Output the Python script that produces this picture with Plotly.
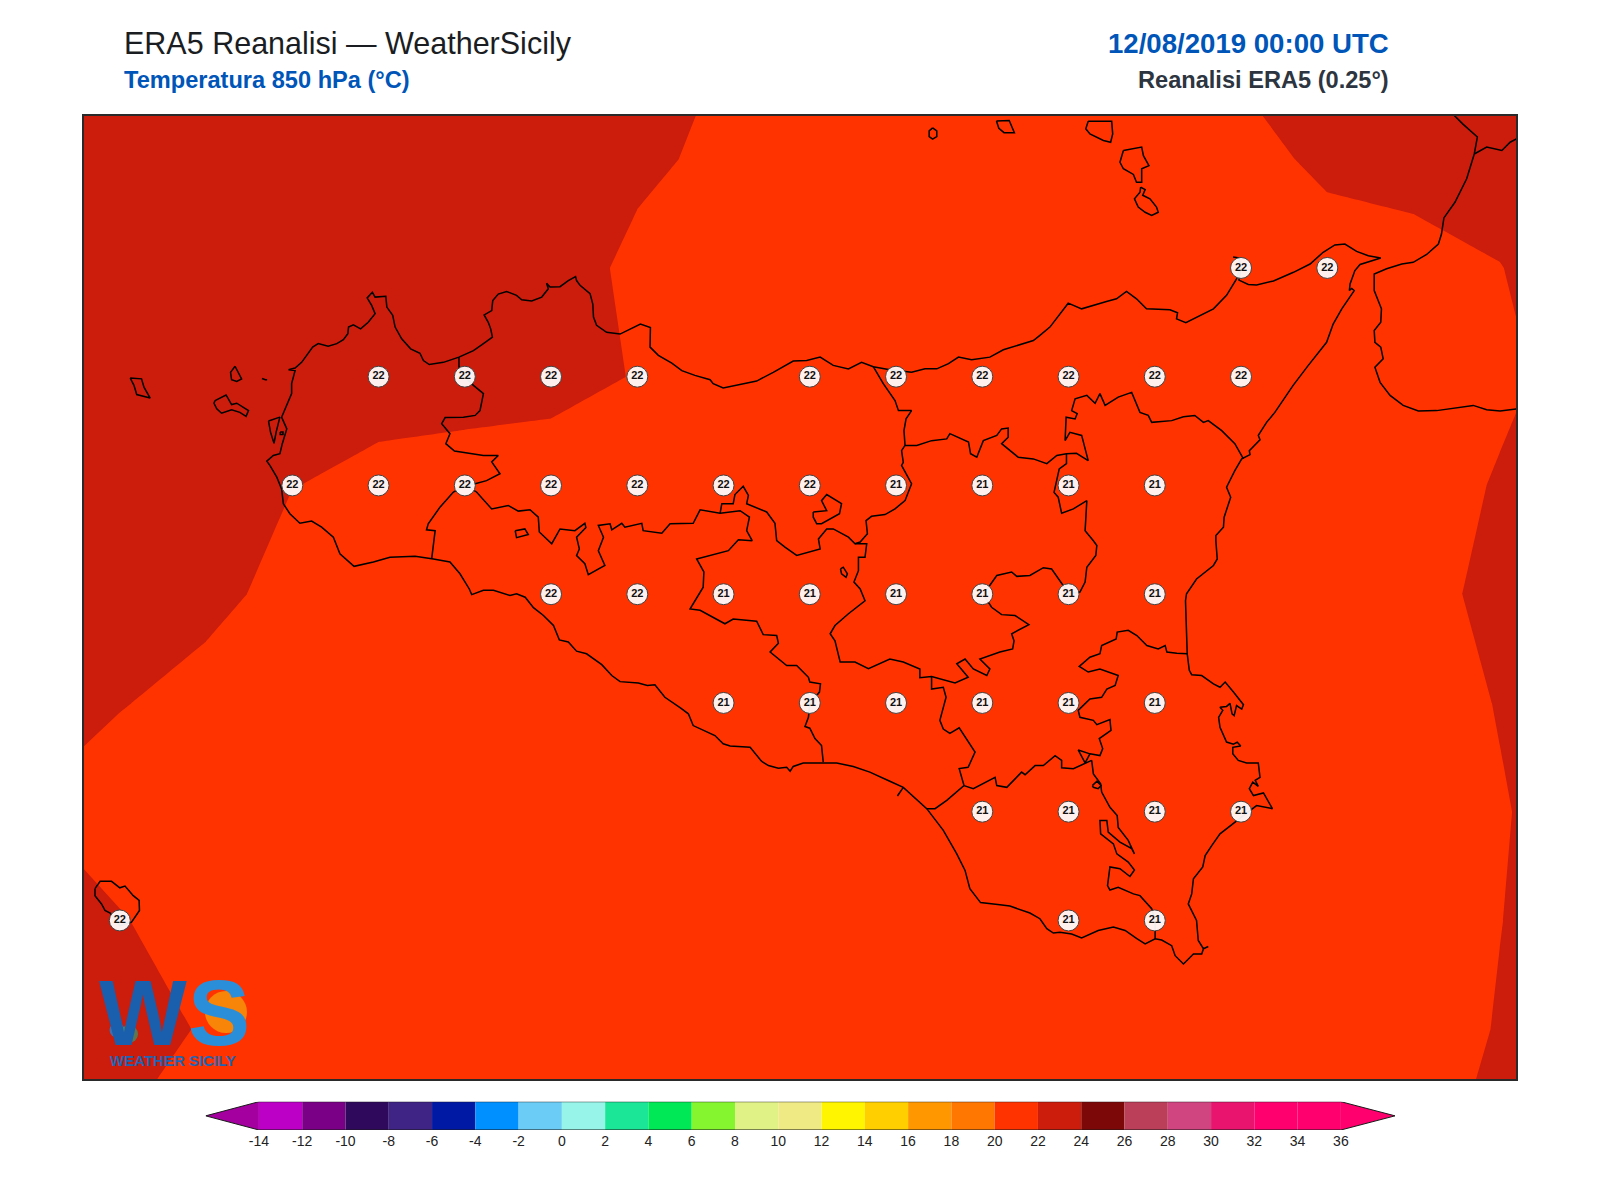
""" ERA5 850 hPa temperature map over Sicily, written to out.html """

import plotly.graph_objects as go

# ERA5 0.25 deg grid, temperature in deg C
GRID_LON = [11.75, 12.0, 12.25, 12.5, 12.75, 13.0, 13.25, 13.5, 13.75, 14.0, 14.25, 14.5, 14.75, 15.0, 15.25, 15.5, 15.75, 16.0, 16.25]
GRID_LAT = [38.75, 38.5, 38.25, 38.0, 37.75, 37.5, 37.25, 37.0, 36.75, 36.5, 36.25]
TEMP = [
    [22.5, 22.5, 22.5, 22.5, 22.5, 22.5, 22.5, 22.4, 21.99, 21.8, 21.7, 21.7, 21.7, 21.8, 22.15, 22.5, 22.6, 22.6, 22.6],
    [22.6, 22.6, 22.6, 22.6, 22.6, 22.5, 22.5, 22.12, 21.87, 21.7, 21.6, 21.6, 21.6, 21.6, 21.7, 22.18, 22.5, 22.5, 22.6],
    [22.6, 22.6, 22.6, 22.6, 22.5, 22.4, 22.3, 21.86, 21.7, 21.6, 21.55, 21.55, 21.55, 21.55, 21.55, 21.59, 21.51, 21.97, 22.6],
    [22.6, 22.6, 22.6, 22.5, 22.3, 22.2, 22.2, 21.97, 21.8, 21.8, 21.75, 21.7, 21.65, 21.6, 21.55, 21.4, 21.5, 21.7, 22.53],
    [22.6, 22.6, 22.5, 22.02, 21.8, 21.79, 21.68, 21.65, 21.6, 21.55, 21.45, 21.4, 21.35, 21.3, 21.3, 21.3, 21.28, 22.13, 22.6],
    [22.6, 22.55, 22.53, 21.41, 21.55, 21.55, 21.6, 21.55, 21.45, 21.4, 21.35, 21.3, 21.25, 21.2, 21.2, 21.3, 21.7, 22.23, 22.6],
    [22.1, 22.11, 21.31, 21.2, 21.3, 21.35, 21.4, 21.4, 21.35, 21.3, 21.3, 21.25, 21.2, 21.2, 21.2, 21.3, 21.5, 22.05, 22.5],
    [21.98, 20.86, 20.9, 21.0, 21.1, 21.2, 21.3, 21.3, 21.3, 21.25, 21.2, 21.2, 21.15, 21.15, 21.2, 21.3, 21.6, 21.92, 22.48],
    [23.0, 22.14, 20.97, 21.0, 21.1, 21.2, 21.25, 21.25, 21.2, 21.2, 21.15, 21.15, 21.1, 21.15, 21.2, 21.3, 21.6, 21.98, 22.5],
    [23.0, 22.49, 21.9, 21.5, 21.4, 21.4, 21.3, 21.3, 21.3, 21.3, 21.3, 21.3, 21.3, 21.3, 21.3, 21.4, 21.5, 22.06, 22.5],
    [22.5, 21.98, 21.5, 21.5, 21.4, 21.4, 21.4, 21.4, 21.4, 21.4, 21.4, 21.4, 21.4, 21.4, 21.4, 21.5, 21.7, 22.27, 22.5],
]

# labelled points on the map
STATION_LON = [15.25, 15.5,
               12.75, 13.0, 13.25, 13.5, 14.0, 14.25, 14.5, 14.75, 15.0, 15.25,
               12.5, 12.75, 13.0, 13.25, 13.5, 13.75, 14.0, 14.25, 14.5, 14.75, 15.0,
               13.25, 13.5, 13.75, 14.0, 14.25, 14.5, 14.75, 15.0,
               13.75, 14.0, 14.25, 14.5, 14.75, 15.0,
               14.5, 14.75, 15.0, 15.25,
               12.0, 14.75, 15.0]
STATION_LAT = [38.25, 38.25,
               38.0, 38.0, 38.0, 38.0, 38.0, 38.0, 38.0, 38.0, 38.0, 38.0,
               37.75, 37.75, 37.75, 37.75, 37.75, 37.75, 37.75, 37.75, 37.75, 37.75, 37.75,
               37.5, 37.5, 37.5, 37.5, 37.5, 37.5, 37.5, 37.5,
               37.25, 37.25, 37.25, 37.25, 37.25, 37.25,
               37.0, 37.0, 37.0, 37.0,
               36.75, 36.75, 36.75]
STATION_VAL = [22, 22,
               22, 22, 22, 22, 22, 22, 22, 22, 22, 22,
               22, 22, 22, 22, 22, 22, 22, 21, 21, 21, 21,
               22, 22, 21, 21, 21, 21, 21, 21,
               21, 21, 21, 21, 21, 21,
               21, 21, 21, 21,
               22, 21, 21]

# colour scale
LEVELS = [-14, -12, -10, -8, -6, -4, -2, 0, 2, 4, 6, 8, 10, 12, 14, 16, 18, 20, 22, 24, 26, 28, 30, 32, 34, 36]
BAND_COLORS = ["#bd00c5", "#7a0085", "#2f0a5c", "#3f2385", "#0019a5", "#0090ff", "#6bcdf5", "#96f5e8",
               "#1be597", "#00e855", "#85f52f", "#e0f285", "#f0ea85", "#fff500", "#ffcf00", "#ff9700",
               "#ff7600", "#ff3300", "#cc1c0c", "#7d0808", "#bc3f5a", "#d04480", "#e8146e", "#ff006e", "#ff006e"]
LOW_COLOR = "#a3009f"
HIGH_COLOR = "#ff006e"

# coastlines and province borders as lon, lat
SICILY_COAST = [
    (12.489, 38.016), (12.508, 38.020), (12.527, 38.033), (12.542, 38.049), (12.559, 38.068), (12.575, 38.076),
    (12.604, 38.070), (12.629, 38.076), (12.648, 38.085), (12.661, 38.099), (12.663, 38.114), (12.677, 38.119),
    (12.698, 38.110), (12.720, 38.125), (12.740, 38.145), (12.730, 38.164), (12.717, 38.181), (12.732, 38.194),
    (12.740, 38.183), (12.771, 38.185), (12.774, 38.160), (12.791, 38.141), (12.798, 38.114), (12.817, 38.087),
    (12.843, 38.064), (12.870, 38.054), (12.880, 38.037), (12.897, 38.028), (12.938, 38.033), (12.983, 38.045),
    (13.025, 38.060), (13.054, 38.076), (13.080, 38.091), (13.075, 38.110), (13.068, 38.125), (13.056, 38.142),
    (13.078, 38.152), (13.081, 38.175), (13.097, 38.190), (13.121, 38.196), (13.150, 38.187), (13.165, 38.177),
    (13.194, 38.174), (13.223, 38.183), (13.242, 38.202), (13.237, 38.215), (13.247, 38.206), (13.276, 38.207),
    (13.300, 38.221), (13.321, 38.230), (13.324, 38.221), (13.334, 38.210), (13.363, 38.191), (13.371, 38.167),
    (13.373, 38.137), (13.382, 38.118), (13.411, 38.102), (13.450, 38.098), (13.509, 38.121), (13.538, 38.113),
    (13.537, 38.083), (13.537, 38.068), (13.561, 38.049), (13.600, 38.031), (13.629, 38.014), (13.667, 38.003),
    (13.711, 37.993), (13.720, 37.984), (13.749, 37.974), (13.798, 37.982), (13.846, 37.990), (13.894, 38.010),
    (13.952, 38.036), (13.991, 38.037), (14.030, 38.045), (14.068, 38.026), (14.112, 38.018), (14.150, 38.033),
    (14.184, 38.023), (14.232, 38.016), (14.295, 38.010), (14.334, 38.018), (14.368, 38.018), (14.402, 38.030),
    (14.431, 38.045), (14.469, 38.039), (14.522, 38.045), (14.561, 38.062), (14.600, 38.072), (14.648, 38.083),
    (14.667, 38.095), (14.696, 38.114), (14.749, 38.169), (14.788, 38.156), (14.860, 38.173), (14.889, 38.179),
    (14.918, 38.196), (14.947, 38.179), (14.976, 38.156), (15.044, 38.154), (15.066, 38.147), (15.063, 38.133),
    (15.090, 38.124), (15.131, 38.141), (15.170, 38.156), (15.208, 38.187), (15.237, 38.225), (15.247, 38.251),
    (15.244, 38.273), (15.227, 38.275), (15.244, 38.273), (15.250, 38.251), (15.244, 38.222), (15.271, 38.212),
    (15.295, 38.211), (15.344, 38.220), (15.402, 38.240), (15.450, 38.259), (15.488, 38.286), (15.522, 38.303),
    (15.551, 38.305), (15.585, 38.288), (15.619, 38.278), (15.655, 38.273), (15.633, 38.267), (15.595, 38.258),
    (15.580, 38.244), (15.566, 38.213), (15.564, 38.198), (15.571, 38.203), (15.578, 38.198), (15.571, 38.190),
    (15.542, 38.156), (15.517, 38.121), (15.498, 38.079), (15.445, 38.026), (15.401, 37.980), (15.348, 37.918),
    (15.324, 37.895), (15.300, 37.865), (15.305, 37.855), (15.274, 37.830), (15.276, 37.821), (15.252, 37.811),
    (15.232, 37.784), (15.208, 37.746), (15.220, 37.723), (15.201, 37.677), (15.199, 37.654), (15.177, 37.635),
    (15.177, 37.623), (15.181, 37.581), (15.170, 37.566), (15.121, 37.535), (15.112, 37.524), (15.092, 37.501),
    (15.089, 37.485), (15.092, 37.424), (15.094, 37.363), (15.100, 37.325), (15.107, 37.315), (15.136, 37.313),
    (15.170, 37.294), (15.189, 37.286), (15.204, 37.298), (15.228, 37.275), (15.257, 37.246), (15.252, 37.236),
    (15.237, 37.244), (15.230, 37.221), (15.224, 37.225), (15.218, 37.249), (15.208, 37.242), (15.189, 37.240),
    (15.197, 37.233), (15.185, 37.217), (15.189, 37.194), (15.208, 37.160), (15.228, 37.155), (15.239, 37.160),
    (15.249, 37.151), (15.226, 37.148), (15.226, 37.133), (15.242, 37.118), (15.266, 37.112), (15.300, 37.112),
    (15.305, 37.079), (15.291, 37.072), (15.300, 37.058), (15.284, 37.068), (15.274, 37.053), (15.286, 37.037),
    (15.315, 37.043), (15.341, 37.007), (15.315, 37.010), (15.295, 37.014), (15.270, 36.999), (15.218, 36.968),
    (15.189, 36.949), (15.165, 36.922), (15.146, 36.899), (15.139, 36.873), (15.112, 36.846), (15.107, 36.811),
    (15.097, 36.788), (15.121, 36.750), (15.126, 36.704), (15.141, 36.685), (15.155, 36.690), (15.141, 36.685),
    (15.136, 36.673), (15.112, 36.673), (15.083, 36.650), (15.059, 36.669), (15.049, 36.692), (15.020, 36.705),
    (15.001, 36.708), (14.972, 36.696), (14.948, 36.708), (14.914, 36.727), (14.880, 36.735), (14.836, 36.727),
    (14.788, 36.710), (14.759, 36.719), (14.725, 36.723), (14.706, 36.721), (14.687, 36.731), (14.667, 36.754),
    (14.638, 36.767), (14.580, 36.783), (14.551, 36.786), (14.495, 36.791), (14.464, 36.823), (14.450, 36.865),
    (14.426, 36.903), (14.387, 36.957), (14.339, 37.007), (14.271, 37.056), (14.232, 37.070), (14.174, 37.091),
    (14.126, 37.104), (14.078, 37.112), (14.039, 37.112), (13.981, 37.112), (13.952, 37.104), (13.943, 37.093),
    (13.933, 37.102), (13.909, 37.100), (13.880, 37.106), (13.860, 37.116), (13.827, 37.148), (13.769, 37.151),
    (13.749, 37.156), (13.725, 37.175), (13.662, 37.198), (13.648, 37.225), (13.626, 37.238), (13.580, 37.263),
    (13.551, 37.292), (13.529, 37.290), (13.503, 37.296), (13.450, 37.299), (13.426, 37.313), (13.397, 37.338),
    (13.353, 37.363), (13.324, 37.369), (13.300, 37.390), (13.274, 37.395), (13.257, 37.428), (13.228, 37.451),
    (13.199, 37.469), (13.175, 37.493), (13.150, 37.501), (13.131, 37.497), (13.083, 37.509), (13.054, 37.509),
    (13.020, 37.499), (13.013, 37.512), (12.986, 37.547), (12.957, 37.574), (12.909, 37.581), (12.856, 37.587),
    (12.783, 37.585), (12.735, 37.574), (12.679, 37.564), (12.638, 37.593), (12.619, 37.631), (12.585, 37.654),
    (12.556, 37.668), (12.522, 37.663), (12.493, 37.685), (12.474, 37.708), (12.469, 37.742), (12.455, 37.769),
    (12.435, 37.796), (12.426, 37.806), (12.445, 37.819), (12.464, 37.823), (12.471, 37.846), (12.484, 37.880),
    (12.469, 37.907), (12.498, 37.961), (12.498, 37.984), (12.508, 38.014), (12.489, 38.016),
]
STAGNONE = [(12.431, 37.898), (12.437, 37.872), (12.447, 37.847), (12.453, 37.872), (12.464, 37.907), (12.431, 37.898)]
MOTIA = [(12.465, 37.873), (12.473, 37.873), (12.473, 37.867), (12.465, 37.867), (12.465, 37.873)]
MARETTIMO = [(12.030, 37.997), (12.063, 37.995), (12.070, 37.976), (12.088, 37.951), (12.049, 37.959), (12.041, 37.980), (12.030, 37.997)]
LEVANZO = [(12.334, 38.024), (12.344, 38.010), (12.353, 37.995), (12.339, 37.989), (12.324, 37.993), (12.321, 38.010), (12.334, 38.024)]
FAVIGNANA = [(12.276, 37.945), (12.308, 37.958), (12.324, 37.936), (12.339, 37.939), (12.373, 37.922), (12.366, 37.909),
             (12.348, 37.918), (12.324, 37.924), (12.295, 37.916), (12.281, 37.926), (12.273, 37.939), (12.276, 37.945)]
FORMICA = [(12.412, 37.996), (12.418, 37.993), (12.422, 37.993), (12.427, 37.993)]
PANTELLERIA = [(11.928, 36.823), (11.943, 36.840), (11.976, 36.840), (12.000, 36.825), (12.015, 36.829), (12.039, 36.807),
               (12.056, 36.796), (12.057, 36.773), (12.034, 36.746), (12.000, 36.738), (11.972, 36.767), (11.957, 36.773),
               (11.947, 36.788), (11.928, 36.807), (11.928, 36.823)]
ALICUDI = [(14.356, 38.572), (14.368, 38.565), (14.368, 38.552), (14.356, 38.546), (14.346, 38.552), (14.346, 38.565), (14.356, 38.572)]
FILICUDI = [(14.541, 38.588), (14.578, 38.589), (14.593, 38.561), (14.563, 38.561), (14.548, 38.571), (14.541, 38.588)]
SALINA = [(14.807, 38.587), (14.875, 38.587), (14.878, 38.558), (14.872, 38.539), (14.851, 38.543), (14.812, 38.558), (14.800, 38.570), (14.807, 38.587)]
LIPARI = [(14.909, 38.520), (14.962, 38.528), (14.967, 38.508), (14.983, 38.485), (14.962, 38.478), (14.962, 38.447),
          (14.947, 38.447), (14.938, 38.465), (14.909, 38.478), (14.899, 38.493), (14.909, 38.520)]
VULCANO = [(14.959, 38.436), (14.972, 38.430), (14.965, 38.417), (14.986, 38.409), (15.005, 38.390), (15.010, 38.378),
           (14.991, 38.371), (14.972, 38.378), (14.952, 38.390), (14.941, 38.409), (14.957, 38.424), (14.959, 38.436)]
CALABRIA = [
    (15.865, 38.603), (15.894, 38.580), (15.935, 38.551), (15.926, 38.512), (15.904, 38.455), (15.870, 38.401),
    (15.838, 38.365), (15.831, 38.328), (15.822, 38.305), (15.788, 38.281), (15.749, 38.263), (15.716, 38.259),
    (15.672, 38.248), (15.636, 38.236), (15.636, 38.198), (15.657, 38.156), (15.655, 38.125), (15.636, 38.106),
    (15.638, 38.079), (15.655, 38.068), (15.662, 38.041), (15.638, 38.022), (15.653, 37.987), (15.682, 37.957),
    (15.720, 37.934), (15.764, 37.921), (15.817, 37.922), (15.865, 37.928), (15.923, 37.934), (15.962, 37.924),
    (16.001, 37.921), (16.049, 37.926),
]
CALABRIA_BORDER = [(15.926, 38.512), (15.962, 38.528), (16.006, 38.520), (16.030, 38.539), (16.049, 38.547)]

TRAPANI_BORDER = [
    (12.983, 38.045), (12.983, 38.023), (13.001, 37.999), (13.025, 37.980), (13.054, 37.961), (13.044, 37.922),
    (13.030, 37.911), (12.996, 37.907), (12.943, 37.906), (12.933, 37.892), (12.957, 37.869), (12.945, 37.846),
    (12.970, 37.829), (13.054, 37.819), (13.097, 37.819), (13.078, 37.804), (13.102, 37.777), (13.063, 37.761),
    (13.030, 37.754), (13.001, 37.750), (12.967, 37.735), (12.928, 37.700), (12.894, 37.662), (12.889, 37.648),
    (12.914, 37.646), (12.904, 37.581),
]
AGRIGENTO_BORDER = [
    (13.001, 37.750), (13.034, 37.735), (13.078, 37.696), (13.126, 37.704), (13.155, 37.691), (13.189, 37.694),
    (13.213, 37.677), (13.216, 37.643), (13.252, 37.616), (13.276, 37.650), (13.319, 37.646), (13.348, 37.663),
    (13.351, 37.653), (13.324, 37.631), (13.332, 37.604), (13.324, 37.589), (13.348, 37.570), (13.358, 37.545),
    (13.406, 37.566), (13.387, 37.600), (13.402, 37.631), (13.387, 37.658), (13.421, 37.662), (13.426, 37.648),
    (13.455, 37.663), (13.464, 37.654), (13.513, 37.663), (13.517, 37.646), (13.571, 37.640), (13.595, 37.662),
    (13.662, 37.663), (13.682, 37.694), (13.740, 37.686), (13.798, 37.692), (13.825, 37.677), (13.817, 37.646),
    (13.833, 37.623), (13.793, 37.625), (13.764, 37.600), (13.711, 37.589), (13.672, 37.581), (13.693, 37.551),
    (13.691, 37.516), (13.662, 37.478), (13.653, 37.466), (13.682, 37.463), (13.754, 37.432), (13.778, 37.443),
    (13.846, 37.438), (13.865, 37.407), (13.904, 37.405), (13.909, 37.387), (13.885, 37.367), (13.933, 37.336),
    (13.962, 37.336), (13.996, 37.309), (14.000, 37.298), (14.031, 37.294), (14.028, 37.275), (14.000, 37.248),
    (13.996, 37.217), (13.986, 37.196), (14.000, 37.192), (14.015, 37.168), (14.034, 37.152), (14.039, 37.114),
]
PALERMO_SOUTH_BORDER = [
    (13.740, 37.686), (13.745, 37.708), (13.778, 37.708), (13.783, 37.729), (13.807, 37.748), (13.822, 37.727),
    (13.817, 37.708), (13.875, 37.689), (13.899, 37.663), (13.904, 37.623), (13.928, 37.608), (13.962, 37.589),
    (14.030, 37.604), (14.025, 37.627), (14.049, 37.650), (14.068, 37.650), (14.112, 37.631), (14.131, 37.616),
    (14.165, 37.616), (14.160, 37.585), (14.141, 37.585), (14.141, 37.554), (14.128, 37.528), (14.146, 37.512),
    (14.160, 37.485), (14.112, 37.455), (14.073, 37.428), (14.059, 37.409), (14.073, 37.393), (14.083, 37.359),
    (14.088, 37.344), (14.131, 37.344), (14.170, 37.329), (14.232, 37.351), (14.271, 37.344), (14.319, 37.328),
    (14.319, 37.308), (14.353, 37.311), (14.421, 37.296), (14.459, 37.309), (14.426, 37.340), (14.450, 37.351),
    (14.474, 37.328), (14.513, 37.313), (14.522, 37.328), (14.493, 37.351), (14.551, 37.367), (14.588, 37.374),
    (14.592, 37.393), (14.585, 37.409), (14.635, 37.430), (14.595, 37.451), (14.556, 37.453), (14.527, 37.470),
    (14.503, 37.499), (14.542, 37.543), (14.585, 37.551), (14.600, 37.541), (14.638, 37.543), (14.677, 37.561),
    (14.701, 37.558), (14.751, 37.501), (14.783, 37.505), (14.798, 37.528), (14.803, 37.562), (14.829, 37.589),
    (14.832, 37.612), (14.822, 37.623), (14.798, 37.646), (14.803, 37.715), (14.764, 37.696), (14.730, 37.686),
    (14.720, 37.723), (14.708, 37.734), (14.723, 37.788), (14.744, 37.800), (14.744, 37.823),
]
MESSINA_BORDER = [
    (14.276, 37.842), (14.310, 37.842), (14.353, 37.853), (14.397, 37.857), (14.406, 37.869), (14.460, 37.850),
    (14.466, 37.823), (14.484, 37.815), (14.503, 37.853), (14.542, 37.865), (14.556, 37.880), (14.575, 37.882),
    (14.575, 37.861), (14.556, 37.846), (14.604, 37.815), (14.648, 37.811), (14.687, 37.800), (14.716, 37.819),
    (14.744, 37.823), (14.773, 37.824), (14.807, 37.807), (14.793, 37.846), (14.788, 37.865), (14.754, 37.872),
    (14.740, 37.853), (14.743, 37.907), (14.769, 37.903), (14.775, 37.915), (14.759, 37.922), (14.769, 37.949),
    (14.803, 37.957), (14.827, 37.939), (14.841, 37.961), (14.856, 37.934), (14.894, 37.953), (14.933, 37.964),
    (14.957, 37.918), (14.981, 37.911), (14.991, 37.895), (15.049, 37.899), (15.083, 37.908), (15.116, 37.911),
    (15.141, 37.895), (15.155, 37.899), (15.194, 37.876), (15.232, 37.846), (15.257, 37.811),
]
PALERMO_EAST_BORDER = [
    (14.184, 38.023), (14.213, 37.984), (14.247, 37.945), (14.257, 37.922), (14.295, 37.922), (14.279, 37.903),
    (14.273, 37.876), (14.276, 37.842), (14.266, 37.830), (14.271, 37.803), (14.266, 37.796), (14.276, 37.781),
    (14.295, 37.754), (14.276, 37.715), (14.247, 37.696), (14.218, 37.683), (14.179, 37.679), (14.163, 37.669),
    (14.167, 37.639), (14.146, 37.620), (14.131, 37.616),
]
CATANIA_NORTH_BORDER = [
    (15.094, 37.363), (15.064, 37.364), (15.035, 37.367), (15.030, 37.382), (15.010, 37.374), (14.977, 37.382),
    (14.948, 37.405), (14.923, 37.417), (14.891, 37.413), (14.888, 37.397), (14.846, 37.382), (14.841, 37.363),
    (14.812, 37.355), (14.781, 37.334), (14.807, 37.321), (14.841, 37.328), (14.894, 37.313), (14.885, 37.290),
    (14.861, 37.282), (14.846, 37.263), (14.812, 37.259), (14.778, 37.233), (14.783, 37.217), (14.822, 37.210),
    (14.832, 37.200), (14.870, 37.212), (14.873, 37.187), (14.839, 37.168), (14.849, 37.145), (14.841, 37.129),
    (14.812, 37.133), (14.793, 37.139), (14.778, 37.142), (14.798, 37.112), (14.812, 37.133),
]
RAGUSA_EAST_BORDER = [
    (14.817, 37.118), (14.822, 37.087), (14.843, 37.064), (14.846, 37.045), (14.870, 37.010), (14.891, 36.991),
    (14.894, 36.964), (14.923, 36.934), (14.941, 36.903), (14.933, 36.915), (14.899, 36.930), (14.865, 36.953),
    (14.861, 36.980), (14.841, 36.980), (14.843, 36.949), (14.880, 36.926), (14.890, 36.903), (14.923, 36.884),
    (14.941, 36.866), (14.928, 36.851), (14.899, 36.869), (14.870, 36.873), (14.863, 36.830), (14.870, 36.820),
    (14.894, 36.826), (14.938, 36.811), (14.957, 36.807), (14.991, 36.777), (15.001, 36.750), (15.001, 36.708),
]
RAGUSA_NORTH_BORDER = [
    (14.447, 37.060), (14.474, 37.053), (14.537, 37.079), (14.542, 37.060), (14.571, 37.056), (14.614, 37.091),
    (14.624, 37.085), (14.653, 37.106), (14.677, 37.106), (14.711, 37.129), (14.730, 37.118), (14.730, 37.101),
    (14.764, 37.099), (14.798, 37.112), (14.817, 37.118),
]
ENNA_SOUTH_BORDER = [
    (14.353, 37.311), (14.353, 37.282), (14.387, 37.286), (14.395, 37.263), (14.377, 37.210), (14.387, 37.190),
    (14.406, 37.180), (14.433, 37.193), (14.479, 37.137), (14.459, 37.102), (14.433, 37.099), (14.447, 37.060),
    (14.397, 37.026), (14.363, 37.007), (14.339, 37.007),
]
LAKE_NORTH = [(14.010, 37.689), (14.049, 37.692), (14.034, 37.715), (14.049, 37.729), (14.092, 37.708), (14.086, 37.685),
              (14.034, 37.662), (14.020, 37.662), (14.010, 37.677), (14.010, 37.689)]
LAKE_PERGUSA = [(14.089, 37.558), (14.097, 37.562), (14.109, 37.547), (14.105, 37.539), (14.092, 37.547), (14.089, 37.558)]
LAKE_WEST = [(13.146, 37.646), (13.174, 37.650), (13.184, 37.637), (13.150, 37.630), (13.146, 37.646)]
LAKE_SOUTH = [(14.819, 37.060), (14.832, 37.070), (14.844, 37.060), (14.836, 37.053), (14.822, 37.056), (14.819, 37.060)]
GELA_PIER = [(14.271, 37.056), (14.254, 37.036)]

OUTLINES = [SICILY_COAST, STAGNONE, MOTIA, MARETTIMO, LEVANZO, FAVIGNANA, FORMICA, PANTELLERIA, ALICUDI, FILICUDI, SALINA,
            LIPARI, VULCANO, CALABRIA, CALABRIA_BORDER, TRAPANI_BORDER, AGRIGENTO_BORDER, PALERMO_SOUTH_BORDER,
            MESSINA_BORDER, PALERMO_EAST_BORDER, CATANIA_NORTH_BORDER, RAGUSA_EAST_BORDER, RAGUSA_NORTH_BORDER,
            ENNA_SOUTH_BORDER, LAKE_NORTH, LAKE_PERGUSA, LAKE_WEST, LAKE_SOUTH, GELA_PIER]

# the page body adds an 8 px margin round the figure
PAGE_MARGIN = 8
FIG_W, FIG_H = 1600 - 2 * PAGE_MARGIN, 1200 - 2 * PAGE_MARGIN
FONT = "Liberation Sans"
LOW_TIP, HIGH_TIP = -16.46, 38.5
LON0, LON1 = 11.8962, 16.047
LAT0, LAT1 = 36.3855, 38.5993
FRAME_L, FRAME_R, FRAME_T, FRAME_B = 84, 1516, 116, 1079


def px(x):
    return (x - PAGE_MARGIN) / FIG_W


def py(y):
    return 1 - (y - PAGE_MARGIN) / FIG_H


def map_lon(x):
    return LON0 + (x - FRAME_L) / (FRAME_R - FRAME_L) * (LON1 - LON0)


def map_lat(y):
    return LAT1 - (y - FRAME_T) / (FRAME_B - FRAME_T) * (LAT1 - LAT0)


def band_colorscale():
    # contour fills sample the scale half a step inside each band
    n = len(LEVELS)
    stops = []
    for i, color in enumerate(BAND_COLORS):
        stops.append([(i + 0.5) / n, color])
        stops.append([(i + 1.5) / n, color])
    return [[0, BAND_COLORS[0]]] + stops + [[1, BAND_COLORS[-1]]]


def label(text, x, y, size, color, anchor="left", bold=False, **kwargs):
    return dict(text=text, x=px(x), y=py(y), xref="paper", yref="paper", xanchor=anchor, yanchor="middle",
                showarrow=False, font=dict(family=FONT, size=size, color=color, weight=700 if bold else 400), **kwargs)


def logo_marks():
    # disc behind the S, drop and leaf at the foot of the W
    return go.Scatter(
        x=[map_lon(226), map_lon(117), map_lon(129)], y=[map_lat(1012), map_lat(1030), map_lat(1034)],
        mode="markers", hoverinfo="skip",
        marker=dict(size=[42, 15, 18], color=["#f5a60b", "#0a90ee", "#2f9e6e"], line=dict(width=0)),
    )


def main():
    fig = go.Figure()

    fig.add_trace(go.Contour(
        x=GRID_LON, y=GRID_LAT[::-1], z=TEMP[::-1], xaxis="x", yaxis="y",
        colorscale=band_colorscale(), showscale=False, hoverinfo="skip",
        autocontour=False, contours=dict(start=LEVELS[0], end=LEVELS[-1], size=2, coloring="fill", showlines=False),
        line=dict(width=0, smoothing=0),
    ))

    lons, lats = [], []
    for outline in OUTLINES:
        lons += [p[0] for p in outline] + [None]
        lats += [p[1] for p in outline] + [None]
    fig.add_trace(go.Scatter(x=lons, y=lats, mode="lines", line=dict(color="black", width=1.5), hoverinfo="skip"))

    fig.add_trace(go.Scatter(
        x=STATION_LON, y=STATION_LAT, mode="markers+text", text=[str(v) for v in STATION_VAL],
        textposition="middle center", textfont=dict(family=FONT, size=11, color="#111111", weight=700),
        marker=dict(size=21, color="rgba(255,255,255,0.93)", line=dict(color="#444444", width=1)),
        hoverinfo="skip", cliponaxis=False,
    ))

    fig.add_trace(logo_marks())

    # colour bar, drawn on its own axes
    fig.add_trace(go.Bar(
        x=[2] * len(BAND_COLORS), base=LEVELS[:-1], y=[0] * len(BAND_COLORS), orientation="h", width=1,
        marker=dict(color=BAND_COLORS, line=dict(width=0)), xaxis="x2", yaxis="y2", hoverinfo="skip",
    ))
    fig.add_trace(go.Scatter(x=[LEVELS[0], LOW_TIP, LEVELS[0], LEVELS[0]], y=[0.5, 0, -0.5, 0.5], xaxis="x2", yaxis="y2",
                             mode="lines", fill="toself", fillcolor=LOW_COLOR, line=dict(width=0), hoverinfo="skip"))
    fig.add_trace(go.Scatter(x=[LEVELS[-1], HIGH_TIP, LEVELS[-1], LEVELS[-1]], y=[0.5, 0, -0.5, 0.5], xaxis="x2", yaxis="y2",
                             mode="lines", fill="toself", fillcolor=HIGH_COLOR, line=dict(width=0), hoverinfo="skip"))
    fig.add_trace(go.Scatter(
        x=[LEVELS[0], LOW_TIP, LEVELS[0], LEVELS[-1], HIGH_TIP, LEVELS[-1], LEVELS[0]],
        y=[0.5, 0, -0.5, -0.5, 0, 0.5, 0.5], xaxis="x2", yaxis="y2", mode="lines",
        line=dict(color="#1a1a1a", width=1), hoverinfo="skip",
    ))

    annotations = [
        label("ERA5 Reanalisi — WeatherSicily", 121.5, 44, 30.5, "#1a1d22"),
        label("Temperatura 850 hPa (°C)", 121.5, 80, 23.6, "#0055b8", bold=True),
        label("12/08/2019 00:00 UTC", 1391, 44, 27.6, "#0055b8", anchor="right", bold=True),
        label("Reanalisi ERA5 (0.25°)", 1391, 80, 23.6, "#2d3540", anchor="right", bold=True),
        label("W", 143, 1013, 93, "#1a5fae", anchor="center", bold=True, height=78, width=90, borderpad=0),
        label("S", 219, 1013, 93, "#2a8fd8", anchor="center", bold=True, height=78, width=60, borderpad=0),
        label("WEATHER SICILY", 173, 1060, 15, "#1e64b4", anchor="center", bold=True),
    ]

    fig.update_layout(
        width=FIG_W, height=FIG_H, autosize=False, margin=dict(l=0, r=0, t=0, b=0),
        paper_bgcolor="white", plot_bgcolor="white", showlegend=False, barmode="overlay",
        annotations=annotations,
        xaxis=dict(domain=[px(FRAME_L), px(FRAME_R)], range=[LON0, LON1], showgrid=False, zeroline=False,
                   showticklabels=False, ticks="", showline=True, mirror=True, linecolor="#2a2a2a", linewidth=2),
        yaxis=dict(domain=[py(FRAME_B), py(FRAME_T)], range=[LAT0, LAT1], showgrid=False, zeroline=False,
                   showticklabels=False, ticks="", showline=True, mirror=True, linecolor="#2a2a2a", linewidth=2),
        xaxis2=dict(domain=[px(205.7), px(1395)], range=[LOW_TIP, HIGH_TIP], anchor="y2", showgrid=False, zeroline=False,
                    tickvals=LEVELS, ticktext=[str(v) for v in LEVELS], ticks="", ticklen=0, ticklabelstandoff=1,
                    tickfont=dict(family=FONT, size=14, color="#222222")),
        yaxis2=dict(domain=[py(1130), py(1101.7)], range=[-0.5, 0.5], anchor="x2", showgrid=False, zeroline=False,
                    showticklabels=False, ticks=""),
    )

    fig.write_html("out.html")


if __name__ == "__main__":
    main()
